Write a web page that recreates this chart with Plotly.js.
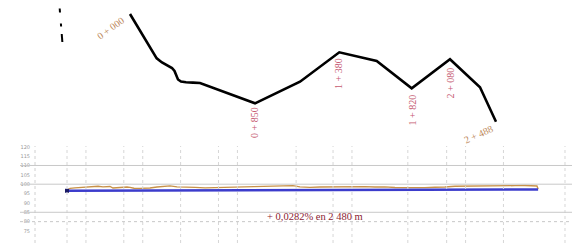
<!DOCTYPE html>
<html>
<head>
<meta charset="utf-8">
<script src="https://cdn.plot.ly/plotly-3.0.1.min.js"></script>
<style>html,body{margin:0;padding:0;background:#fff;}#chart{width:572px;height:249px;}</style>
</head>
<body>
<div id="chart"></div>
<script>
// ---- Plan view (route trace) ----
const routeX = [130, 156.7, 162, 167, 172, 174.5, 176, 178, 181, 186, 193, 200, 255, 300, 339.3, 376.7, 411.7, 450, 480, 496];
const routeY = [14, 58.3, 62.5, 65, 68, 71, 75.5, 79.5, 81.5, 82.3, 82.6, 83, 103.3, 81.7, 52.3, 61, 88.3, 59.3, 87.3, 121.7];
const stationLabels = ["0 + 000", "0 + 850", "1 + 380", "1 + 820", "2 + 080", "2 + 488"];
const stationLabelX = [110, 254, 338, 411.5, 449.5, 478];
const stationLabelY = [28, 123, 74, 110, 83, 134];
const stationLabelAngle = [-36, -90, -90, -90, -90, -24];
const stationLabelColor = ["#bd8a5c", "#c65a72", "#c65a72", "#c65a72", "#c65a72", "#bd8a5c"];
const northMarkY0 = [8.5, 23.5, 34];
const northMarkY1 = [12.5, 26.5, 42];

// ---- Longitudinal profile ----
const terrainChainage = [0, 16, 42, 84, 121, 164, 190, 227, 243, 280, 317, 333, 354, 385, 438, 475, 507, 544, 581, 623, 676, 729, 781, 834, 887, 940, 993, 1045, 1098, 1151, 1193, 1230, 1283, 1336, 1399, 1468, 1521, 1573, 1626, 1679, 1732, 1785, 1837, 1890, 1943, 1970, 1996, 2049, 2102, 2155, 2207, 2260, 2313, 2366, 2418, 2461, 2482, 2488];
const terrainElev = [96.62, 97.79, 98.06, 98.32, 98.48, 98.91, 98.59, 98.80, 97.95, 98.38, 98.48, 98.32, 97.84, 97.79, 97.95, 98.48, 98.91, 99.12, 98.59, 98.32, 98.32, 98.06, 98.22, 98.48, 98.59, 98.70, 98.64, 99.02, 99.12, 99.39, 99.23, 98.59, 98.32, 98.48, 98.59, 98.59, 98.75, 98.70, 98.48, 98.59, 98.22, 98.11, 98.22, 98.16, 98.38, 98.64, 98.48, 98.91, 99.02, 99.02, 99.12, 99.07, 99.23, 99.23, 99.28, 99.28, 99.02, 97.42];
const gradeChainage = [0, 2488];
const gradeElev = [96.5, 97.2];
const yTickVals = [120, 115, 110, 105, 100, 95, 90, 85, 80, 75];
const yTickText = ["120", "115", "110", "105", "100", "95", "90", "85", "80", "75"];
const gridChainages = [0, 100, 300, 400, 600, 800, 900, 1210, 1405, 1505, 1800, 2005, 2105, 2305, 2630];
const solidLevels = [110, 100, 85];
const dottedLevels = [80];
const gradeText = "+ 0,0282% en 2 480 m";

const W = 572, H = 249;
const pyTop = 146, pyBot = 243;

const traces = [
  {x: routeX, y: routeY, xaxis: 'x', yaxis: 'y', mode: 'lines', type: 'scatter',
   line: {color: '#000', width: 2.6}, hoverinfo: 'skip', showlegend: false},
  {x: terrainChainage, y: terrainElev, xaxis: 'x2', yaxis: 'y2', mode: 'lines', type: 'scatter',
   line: {color: '#c8924a', width: 1.4}, showlegend: false},
  {x: gradeChainage, y: gradeElev, xaxis: 'x2', yaxis: 'y2', mode: 'lines', type: 'scatter',
   line: {color: '#3c3ccc', width: 2.6}, showlegend: false},
  {x: [gradeChainage[0]], y: [gradeElev[0]], xaxis: 'x2', yaxis: 'y2', mode: 'markers', type: 'scatter',
   marker: {color: '#1a1a66', size: 4, symbol: 'square'}, showlegend: false}
];

const shapes = [];
northMarkY0.forEach((y0, i) => shapes.push({type: 'line', xref: 'x', yref: 'y',
  x0: 59 + y0 * 0.08, y0: y0, x1: 59 + northMarkY1[i] * 0.08, y1: northMarkY1[i],
  line: {color: '#000', width: 2}}));
// left dotted axis
shapes.push({type: 'line', xref: 'paper', yref: 'paper', x0: 35 / W, x1: 35 / W,
  y0: (H - pyBot) / H, y1: (H - pyTop) / H, line: {color: '#d0d0d0', width: 1, dash: 'dot'}});
gridChainages.forEach(c => shapes.push({type: 'line', xref: 'x2', yref: 'paper', x0: c, x1: c,
  y0: (H - pyBot) / H, y1: (H - pyTop) / H, line: {color: '#d6d6d6', width: 1, dash: 'dot'}}));
solidLevels.forEach(v => shapes.push({type: 'line', xref: 'paper', yref: 'y2', x0: 20 / W, x1: 1, y0: v, y1: v,
  line: {color: '#c8c8c8', width: 1}}));
dottedLevels.forEach(v => shapes.push({type: 'line', xref: 'paper', yref: 'y2', x0: 20 / W, x1: 1, y0: v, y1: v,
  line: {color: '#c8c8c8', width: 1, dash: 'dot'}}));

const annotations = stationLabels.map((t, i) => ({
  text: t, x: stationLabelX[i], y: stationLabelY[i], xref: 'x', yref: 'y', showarrow: false,
  textangle: stationLabelAngle[i], font: {family: 'Liberation Serif, serif', size: 10, color: stationLabelColor[i]}
}));
annotations.push({text: gradeText, x: 1310, y: 82.6, xref: 'x2', yref: 'y2', showarrow: false,
  font: {family: 'Liberation Serif, serif', size: 10.5, color: '#8b2232'}});

const layout = {
  width: W, height: H, margin: {l: 0, r: 0, t: 0, b: 0},
  paper_bgcolor: '#fff', plot_bgcolor: 'rgba(0,0,0,0)', showlegend: false,
  xaxis: {domain: [0, 1], range: [0, W], visible: false, fixedrange: true},
  yaxis: {domain: [0, 1], range: [H, 0], visible: false, fixedrange: true},
  xaxis2: {domain: [35 / W, 1], range: [-169, 2667], anchor: 'y2', visible: false},
  yaxis2: {domain: [(H - pyBot) / H, (H - 143) / H], range: [68.6, 122], anchor: 'x2',
    tickvals: yTickVals, ticktext: yTickText, showgrid: false, zeroline: false, showline: false,
    ticks: '', ticklabelstandoff: 4, tickfont: {family: 'DejaVu Sans, sans-serif', size: 5, color: '#999'}},
  shapes: shapes, annotations: annotations
};

Plotly.newPlot('chart', traces, layout, {displayModeBar: false, staticPlot: true});
</script>
</body>
</html>
